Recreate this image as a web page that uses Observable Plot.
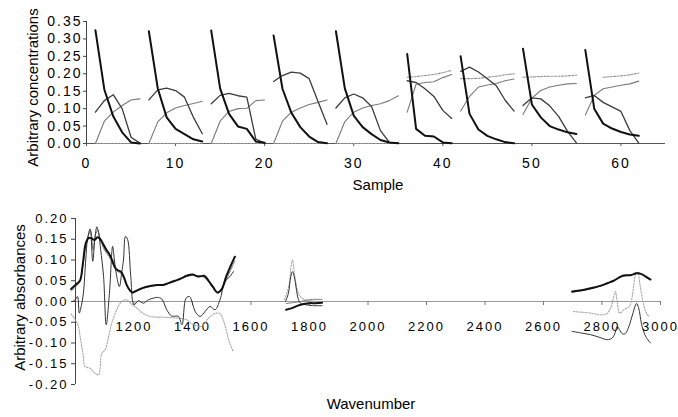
<!DOCTYPE html>
<html>
<head>
<meta charset="utf-8">
<script src="https://cdn.jsdelivr.net/npm/d3@7"></script>
<script src="https://cdn.jsdelivr.net/npm/@observablehq/plot@0.6"></script>
<style>
  html, body { margin: 0; padding: 0; background: #fff; }
  #chart { width: 678px; }
  #chart svg { display: block; }
  g[aria-label="x-axis tick label"] text, g[aria-label="y-axis tick label"] text, g.ticklab text { letter-spacing: 2px; }
</style>
</head>
<body>
<div id="chart"></div>
<script>
// ---------- Top panel: concentration profiles ----------
const sample = [1,2,3,4,5,6, 7,8,9,10,11,12,13, 14,15,16,17,18,19,20, 21,22,23,24,25,26,27,
  28,29,30,31,32,33,34,35, 36,37,38,39,40,41, 42,43,44,45,46,47,48, 49,50,51,52,53,54,55, 56,57,58,59,60,61,62];
const batch = [1,1,1,1,1,1, 2,2,2,2,2,2,2, 3,3,3,3,3,3,3, 4,4,4,4,4,4,4,
  5,5,5,5,5,5,5,5, 6,6,6,6,6,6, 7,7,7,7,7,7,7, 8,8,8,8,8,8,8, 9,9,9,9,9,9,9];
const conc1 = [0.325,0.155,0.078,0.032,0.003,0.000,
  0.322,0.158,0.075,0.042,0.027,0.012,0.006,
  0.324,0.158,0.085,0.049,0.042,0.006,0.002,
  0.310,0.157,0.088,0.047,0.020,0.004,0.001,
  0.322,0.158,0.080,0.047,0.027,0.010,0.003,0.001,
  0.257,0.042,0.022,0.020,0.003,0.001,
  0.250,0.085,0.040,0.022,0.012,0.004,0.001,
  0.272,0.112,0.075,0.050,0.040,0.032,0.027,
  0.268,0.100,0.057,0.043,0.033,0.026,0.022];
const conc2 = [0.090,0.123,0.140,0.100,0.018,0.001,
  0.125,0.154,0.159,0.152,0.133,0.075,0.028,
  0.114,0.138,0.144,0.137,0.133,0.013,0.001,
  0.178,0.195,0.205,0.202,0.186,0.120,0.055,
  0.102,0.131,0.142,0.131,0.106,0.037,0.003,0.001,
  0.180,0.175,0.157,0.135,0.095,0.072,
  0.207,0.219,0.205,0.186,0.166,0.124,0.093,
  0.109,0.131,0.128,0.108,0.078,0.035,0.002,
  0.131,0.138,0.118,0.105,0.092,0.037,0.001];
const conc3 = [0.000,0.064,0.090,0.109,0.125,0.128,
  0.000,0.062,0.088,0.102,0.109,0.115,0.121,
  0.000,0.064,0.092,0.100,0.101,0.123,0.125,
  0.000,0.064,0.090,0.102,0.112,0.118,0.125,
  0.000,0.063,0.090,0.102,0.109,0.114,0.123,0.137,
  0.090,0.170,0.175,0.177,0.189,0.198,
  0.093,0.135,0.162,0.168,0.172,0.180,0.185,
  0.083,0.130,0.152,0.162,0.167,0.171,0.172,
  0.082,0.138,0.157,0.162,0.167,0.171,0.179];
const conc4 = [0,0,0,0,0,0, 0,0,0,0,0,0,0, 0,0,0,0,0,0,0, 0,0,0,0,0,0,0, 0,0,0,0,0,0,0,0,
  0.190,0.192,0.195,0.198,0.203,0.210,
  0.186,0.186,0.187,0.190,0.193,0.197,0.200,
  0.190,0.191,0.192,0.193,0.193,0.194,0.196,
  null,null,0.190,0.192,0.194,0.197,0.202];
const sampleTicks = [0,10,20,30,40,50,60];
const concTicks = [0,0.05,0.10,0.15,0.20,0.25,0.30,0.35];

// ---------- Bottom panel: spectra (three wavenumber windows) ----------
// A: thick black, B: dark thin, C: grey thin, D: dotted
const aWn1 = [985,1000,1015,1025,1035,1045,1055,1065,1075,1085,1095,1105,1115,1125,1135,1145,1155,1165,1175,1185,1195,1205,1220,1240,1260,1280,1300,1320,1340,1360,1380,1400,1420,1440,1455,1470,1485,1500,1515,1530,1545];
const aVal1 = [0.030,0.040,0.050,0.090,0.140,0.153,0.152,0.148,0.155,0.150,0.138,0.125,0.115,0.100,0.082,0.075,0.072,0.060,0.040,0.028,0.022,0.025,0.030,0.035,0.038,0.040,0.040,0.045,0.050,0.055,0.062,0.065,0.060,0.062,0.050,0.035,0.022,0.030,0.060,0.085,0.108];
const cWn1 = [985,1000,1015,1025,1035,1045,1052,1060,1068,1076,1085,1095,1105,1115,1125,1135,1145,1155,1165,1175,1185,1195,1205,1220,1240,1260,1280,1300,1320,1340,1360,1380,1400,1420,1440,1455,1470,1485,1500,1515,1530,1545];
const cVal1 = [0.025,0.035,0.048,0.085,0.135,0.160,0.170,0.125,0.160,0.172,0.150,0.130,0.118,0.108,0.095,0.080,0.072,0.068,0.055,0.038,0.026,0.020,0.023,0.028,0.034,0.037,0.039,0.041,0.044,0.049,0.056,0.060,0.063,0.062,0.058,0.047,0.033,0.020,0.028,0.052,0.075,0.098];
const bWn1 = [990,1000,1007,1013,1020,1027,1035,1041,1050,1059,1066,1073,1080,1086,1096,1105,1116,1127,1133,1139,1150,1158,1164,1171,1178,1189,1200,1215,1232,1249,1266,1280,1295,1312,1329,1352,1364,1378,1390,1400,1409,1426,1443,1460,1477,1494,1511,1528,1540];
const bVal1 = [0.000,0.005,0.012,-0.028,-0.010,0.020,0.100,0.150,0.175,0.097,0.150,0.180,0.160,0.125,0.060,-0.056,0.020,0.133,0.100,0.068,0.036,0.070,0.100,0.157,0.150,0.060,-0.008,0.002,-0.004,0.004,0.008,0.010,0.006,-0.020,-0.035,-0.036,-0.056,0.008,0.012,-0.005,-0.024,-0.036,-0.024,-0.012,-0.020,0.004,0.048,0.060,0.072];
const dWn1 = [985,1000,1010,1016,1027,1033,1050,1067,1079,1090,1101,1113,1124,1141,1158,1175,1193,1210,1230,1255,1301,1347,1381,1400,1430,1455,1480,1495,1510,1525,1540];
const dVal1 = [-0.030,-0.045,-0.060,-0.085,-0.133,-0.157,-0.161,-0.173,-0.177,-0.125,-0.117,-0.085,-0.052,-0.020,0.000,0.004,-0.008,-0.016,-0.028,-0.036,-0.038,-0.040,-0.044,-0.055,-0.060,-0.040,-0.028,-0.030,-0.055,-0.095,-0.122];

const aWn2 = [1720,1740,1760,1780,1800,1820,1843];
const aVal2 = [-0.020,-0.016,-0.010,-0.006,-0.004,-0.004,-0.003];
const bWn2 = [1718,1728,1736,1742,1748,1755,1762,1770,1790,1810,1843];
const bVal2 = [0.000,0.020,0.060,0.072,0.060,0.030,0.005,-0.005,-0.008,-0.010,-0.010];
const cWn2 = [1720,1750,1770,1790,1810,1843];
const cVal2 = [-0.005,-0.002,0.000,0.003,0.005,0.005];
const dWn2 = [1715,1730,1738,1742,1748,1755,1765,1775,1790,1843];
const dVal2 = [0.005,0.040,0.090,0.100,0.070,0.040,0.015,0.008,0.003,0.000];

const aWn3 = [2698,2730,2761,2790,2818,2840,2864,2880,2900,2920,2935,2950,2966];
const aVal3 = [0.024,0.027,0.032,0.037,0.044,0.050,0.060,0.063,0.064,0.068,0.066,0.060,0.053];
const cWn3 = [2698,2730,2761,2790,2818,2840,2864,2880,2900,2915,2930,2950,2962];
const cVal3 = [0.022,0.026,0.030,0.036,0.043,0.051,0.059,0.062,0.063,0.070,0.068,0.058,0.052];
const bWn3 = [2698,2730,2761,2790,2818,2835,2845,2852,2860,2870,2880,2892,2905,2918,2925,2937,2950,2966];
const bVal3 = [-0.072,-0.076,-0.080,-0.086,-0.092,-0.088,-0.075,-0.060,-0.068,-0.078,-0.077,-0.060,-0.030,-0.005,-0.015,-0.060,-0.085,-0.100];
const dWn3 = [2703,2761,2795,2815,2830,2840,2846,2852,2860,2875,2895,2905,2915,2922,2930,2940,2950,2960];
const dVal3 = [-0.024,-0.028,-0.032,-0.030,-0.015,0.010,0.024,0.000,-0.028,-0.020,-0.010,0.020,0.065,0.070,0.040,0.000,-0.025,-0.036];

const wnTicks = [1200,1400,1600,1800,2000,2200,2400,2600,2800,3000];
const absTicks = [-0.20,-0.15,-0.10,-0.05,0,0.05,0.10,0.15,0.20];

// ---------- build tables ----------
function topRows(vals) {
  return sample.map((s, i) => ({sample: s, batch: batch[i], value: vals[i]}));
}
function specRows(pairs) {
  const rows = [];
  pairs.forEach(([wn, val], r) => wn.forEach((w, i) => rows.push({wn: w, a: val[i], region: r})));
  return rows;
}
const specA = specRows([[aWn1, aVal1], [aWn2, aVal2], [aWn3, aVal3]]);
const specB = specRows([[bWn1, bVal1], [bWn2, bVal2], [bWn3, bVal3]]);
const specC = specRows([[cWn1, cVal1], [cWn2, cVal2], [cWn3, cVal3]]);
const specD = specRows([[dWn1, dVal1], [dWn2, dVal2], [dWn3, dVal3]]);

const font = "Liberation Sans, Arial, Helvetica, sans-serif";
const fmt2 = d => d.toFixed(2);

const topChart = Plot.plot({
  width: 678, height: 200,
  marginLeft: 86, marginRight: 13, marginTop: 21, marginBottom: 57,
  style: {fontFamily: font, fontSize: "14px", color: "#000", background: "#fff"},
  x: {domain: [0, 65], axis: null},
  y: {domain: [0, 0.35], axis: null},
  marks: [
    Plot.ruleY([0], {stroke: "#555"}),
    Plot.ruleX([0], {stroke: "#444"}),
    Plot.axisX(sampleTicks, {tickSize: 3, tickPadding: 12, tickFormat: d => String(d), fontSize: 14, stroke: "#555", label: null}),
    Plot.axisY(concTicks, {tickSize: 3, tickPadding: 1, tickFormat: fmt2, fontSize: 14, stroke: "#444", label: null}),
    Plot.line(topRows(conc4), {x: "sample", y: "value", z: "batch", stroke: "#9a9a9a", strokeWidth: 1.2, strokeDasharray: "2,1.5"}),
    Plot.line(topRows(conc3), {x: "sample", y: "value", z: "batch", stroke: "#7a7a7a", strokeWidth: 1.1}),
    Plot.line(topRows(conc2), {x: "sample", y: "value", z: "batch", stroke: "#3c3c3c", strokeWidth: 1.3}),
    Plot.line(topRows(conc1), {x: "sample", y: "value", z: "batch", stroke: "#111", strokeWidth: 2}),
    Plot.text(["Arbitrary concentrations"], {frameAnchor: "left", textAnchor: "middle", rotate: -90, dx: -53, dy: 5, text: d => d, fontSize: 15}),
    Plot.text(["Sample"], {frameAnchor: "bottom", dy: 46, dx: 2, text: d => d, fontSize: 15})
  ]
});

const bottomChart = Plot.plot({
  width: 678, height: 217,
  marginLeft: 75, marginRight: 18, marginTop: 18, marginBottom: 33,
  style: {fontFamily: font, fontSize: "13px", color: "#000", background: "#fff"},
  x: {domain: [1000, 3000], axis: null},
  y: {domain: [-0.2, 0.2], axis: null},
  marks: [
    Plot.ruleY([0], {stroke: "#999", strokeWidth: 1.2}),
    Plot.ruleX([1000], {stroke: "#444"}),
    Plot.axisY(absTicks, {tickSize: 4, tickPadding: 3, tickFormat: fmt2, fontSize: 13, stroke: "#444", label: null}),
    Plot.ruleX(wnTicks, {x: d => d, y1: 0, y2: 0, insetBottom: -4, stroke: "#777"}),
    Plot.text(wnTicks, {x: d => d, y: 0, dy: 25, text: d => String(d), fontSize: 13, className: "ticklab"}),
    Plot.line(specD, {x: "wn", y: "a", z: "region", stroke: "#a8a8a8", strokeWidth: 1.1, strokeDasharray: "1.5,1.5", curve: "catmull-rom"}),
    Plot.line(specC, {x: "wn", y: "a", z: "region", stroke: "#777", strokeWidth: 1, curve: "catmull-rom"}),
    Plot.line(specB, {x: "wn", y: "a", z: "region", stroke: "#333", strokeWidth: 1, curve: "catmull-rom"}),
    Plot.line(specA, {x: "wn", y: "a", z: "region", stroke: "#111", strokeWidth: 2, curve: "catmull-rom"}),
    Plot.text(["Arbitrary absorbances"], {frameAnchor: "left", textAnchor: "middle", rotate: -90, dx: -55, dy: -4, text: d => d, fontSize: 15}),
    Plot.text(["Wavenumber"], {frameAnchor: "bottom", dy: 24, dx: 3, text: d => d, fontSize: 15})
  ]
});

document.getElementById("chart").append(topChart, bottomChart);
</script>
</body>
</html>
